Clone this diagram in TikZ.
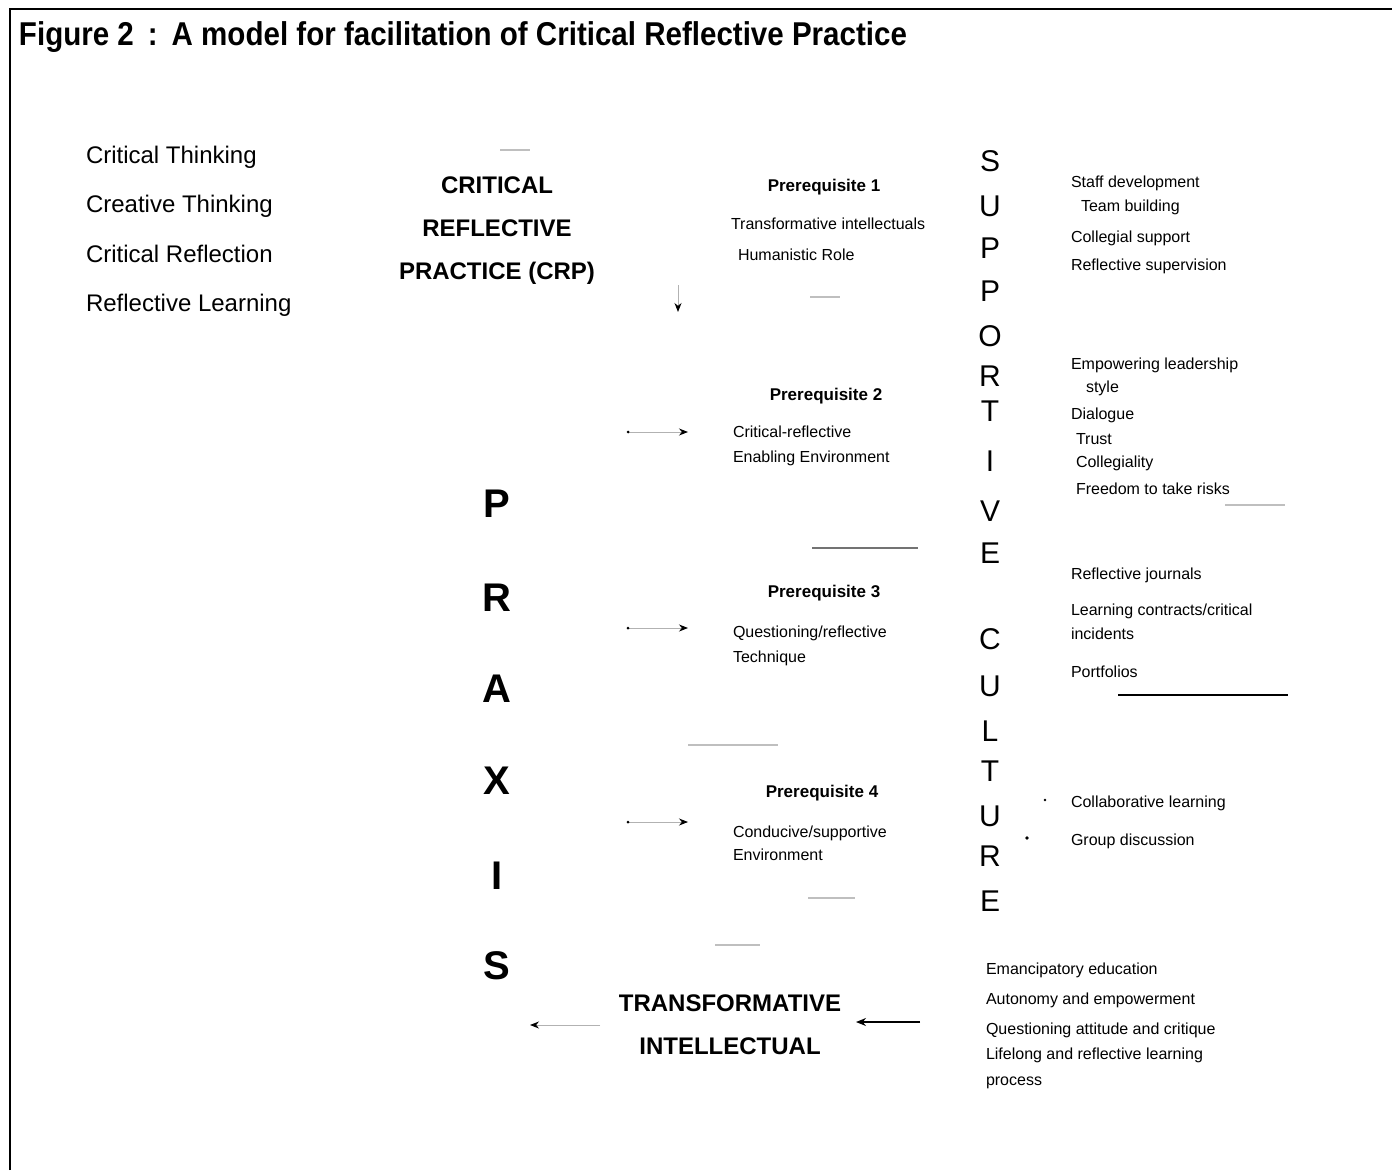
\documentclass[tikz,border=0pt]{standalone}
\usepackage{fontspec}
\setmainfont{Liberation Sans}
\newfontfamily\titlefont[FakeStretch=0.895]{Liberation Sans}
\usetikzlibrary{arrows.meta}
\begin{document}
\begin{tikzpicture}[x=1pt,y=-1pt,
  every node/.style={inner sep=0pt,outer sep=1pt},
  titletext/.style={anchor=base west,font=\titlefont\bfseries\fontsize{33}{36}\selectfont},
  leftitem/.style={anchor=base west,font=\fontsize{24}{28}\selectfont},
  bigbold/.style={anchor=base,font=\bfseries\fontsize{24}{28}\selectfont},
  praxis/.style={anchor=base,font=\bfseries\fontsize{40}{44}\selectfont},
  culture/.style={anchor=base,font=\fontsize{30}{34}\selectfont},
  prereq/.style={anchor=base,font=\bfseries\fontsize{17}{20}\selectfont},
  item/.style={anchor=base west,font=\fontsize{16}{19}\selectfont},
  faint/.style={draw=black!25,line width=1.2pt},
  conn/.style={draw=black!30,line width=1pt,-{Stealth[black,length=9pt,width=7pt]}}
]
\useasboundingbox (0,0) rectangle (1392,1170);
\fill[white] (0,0) rectangle (1392,1170);
% frame
\draw[line width=2.5pt] (10,1170) -- (10,9) -- (1392,9);
% title
\node[titletext] (title) at (18,45) {Figure 2\hspace{14pt}:\hspace{14pt}A model for facilitation of Critical Reflective Practice};
% left list
\node[leftitem] (l1) at (85,163) {Critical Thinking};
\node[leftitem] (l2) at (85,212) {Creative Thinking};
\node[leftitem] (l3) at (85,262) {Critical Reflection};
\node[leftitem] (l4) at (85,311) {Reflective Learning};
% CRP
\node[bigbold] (c1) at (497,193) {CRITICAL};
\node[bigbold] (c2) at (497,236) {REFLECTIVE};
\node[bigbold] (c3) at (497,279) {PRACTICE (CRP)};
% PRAXIS
\node[praxis] (p1) at (497,517) {P};
\node[praxis] (p2) at (497,611) {R};
\node[praxis] (p3) at (497,702) {A};
\node[praxis] (p4) at (497,794) {X};
\node[praxis] (p5) at (497,889) {I};
\node[praxis] (p6) at (497,979) {S};
% SUPPORTIVE CULTURE
\foreach \ch/\yy [count=\i] in {S/171,U/216,P/258,P/301,O/346,R/386,T/421,I/471,V/521,E/563,C/649,U/696,L/741,T/781,U/826,R/866,E/911}
  \node[culture] (sc\i) at (990,\yy) {\ch};
% prerequisites
\node[prereq] (pr1) at (824,191) {Prerequisite 1};
\node[item] (pr1a) at (730,229) {Transformative intellectuals};
\node[item] (pr1b) at (737,260) {Humanistic Role};
\node[prereq] (pr2) at (826,400) {Prerequisite 2};
\node[item] (pr2a) at (732,437) {Critical-reflective};
\node[item] (pr2b) at (732,462) {Enabling Environment};
\node[prereq] (pr3) at (824,597) {Prerequisite 3};
\node[item] (pr3a) at (732,637) {Questioning/reflective};
\node[item] (pr3b) at (732,662) {Technique};
\node[prereq] (pr4) at (822,797) {Prerequisite 4};
\node[item] (pr4a) at (732,837) {Conducive/supportive};
\node[item] (pr4b) at (732,860) {Environment};
% right group 1
\node[item] (g1a) at (1070,187) {Staff development};
\node[item] (g1b) at (1080,211) {Team building};
\node[item] (g1c) at (1070,242) {Collegial support};
\node[item] (g1d) at (1070,270) {Reflective supervision};
% right group 2
\node[item] (g2a) at (1070,369) {Empowering leadership};
\node[item] (g2b) at (1085,392) {style};
\node[item] (g2c) at (1070,419) {Dialogue};
\node[item] (g2d) at (1075,444) {Trust};
\node[item] (g2e) at (1075,467) {Collegiality};
\node[item] (g2f) at (1075,494) {Freedom to take risks};
% right group 3
\node[item] (g3a) at (1070,579) {Reflective journals};
\node[item] (g3b) at (1070,615) {Learning contracts/critical};
\node[item] (g3c) at (1070,639) {incidents};
\node[item] (g3d) at (1070,677) {Portfolios};
% right group 4
\node[item] (g4a) at (1070,807) {Collaborative learning};
\node[item] (g4b) at (1070,845) {Group discussion};
\fill (1045,800) circle (1.3pt);
\fill (1027,838) circle (1.8pt);
% transformative intellectual
\node[bigbold] (t1) at (730,1011) {TRANSFORMATIVE};
\node[bigbold] (t2) at (730,1054) {INTELLECTUAL};
\node[item] (b1) at (985,974) {Emancipatory education};
\node[item] (b2) at (985,1004) {Autonomy and empowerment};
\node[item] (b3) at (985,1034) {Questioning attitude and critique};
\node[item] (b4) at (985,1059) {Lifelong and reflective learning};
\node[item] (b5) at (985,1085) {process};
% faint box remnants
\draw[faint] (500,150) -- (530,150);
\draw[faint] (810,297) -- (840,297);
\draw[draw=black!55,line width=1.2pt] (812,548) -- (918,548);
\draw[faint] (688,745) -- (778,745);
\draw[faint] (808,898) -- (855,898);
\draw[faint] (715,945) -- (760,945);
\draw[faint] (1225,505) -- (1285,505);
\draw[line width=1.5pt] (1118,695) -- (1288,695);
% connectors
\coordinate (a2s) at (628,432); \coordinate (a2e) at (688,432);
\coordinate (a3s) at (628,628); \coordinate (a3e) at (688,628);
\coordinate (a4s) at (628,822); \coordinate (a4e) at (688,822);
\draw[conn] (a2s) -- (a2e);
\draw[conn] (a3s) -- (a3e);
\draw[conn] (a4s) -- (a4e);
\fill (628,432) circle (1.5pt);
\fill (628,628) circle (1.5pt);
\fill (628,822) circle (1.5pt);
\coordinate (ti) at (920,1022); \coordinate (tiend) at (856,1022);
\draw[line width=1.3pt,-{Stealth[length=10pt,width=8pt]}] (ti) -- (tiend);
\coordinate (tl) at (600,1025); \coordinate (tlend) at (530,1025);
\draw[conn] (tl) -- (tlend);
\coordinate (cr1) at (678,285); \coordinate (cr2) at (678,312);
\draw[conn] (cr1) -- (cr2);
\end{tikzpicture}
\end{document}
